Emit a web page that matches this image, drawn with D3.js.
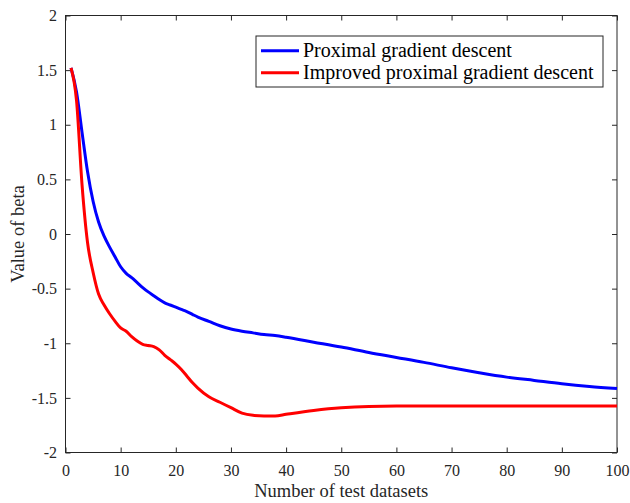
<!DOCTYPE html>
<html>
<head>
<meta charset="utf-8">
<script src="https://cdn.jsdelivr.net/npm/d3@7"></script>
<style>
  html, body { margin: 0; padding: 0; background: #fff; }
  svg { display: block; font-family: "Liberation Serif", "Times New Roman", serif; }
</style>
</head>
<body>
<div id="chart"></div>
<script>
// data
const datasets = [1, 2, 3, 4, 5, 6, 7, 8, 9, 10, 11, 12, 13, 14, 15, 16, 17, 18, 19, 20,
  21, 22, 23, 24, 26, 28, 30, 32, 34, 36, 38, 40, 45, 50, 55, 60, 65, 70, 75, 80, 85, 90, 95, 100];

const proximal = [1.52, 1.30, 0.93, 0.57, 0.30, 0.11, -0.02, -0.12, -0.21, -0.30, -0.36, -0.40, -0.445, -0.49, -0.53, -0.565, -0.60, -0.63, -0.65, -0.67,
  -0.69, -0.71, -0.735, -0.76, -0.80, -0.84, -0.87, -0.89, -0.905, -0.92, -0.93, -0.945, -0.99, -1.035, -1.085, -1.13, -1.175, -1.225, -1.27, -1.31, -1.34, -1.37, -1.395, -1.415];

const improved = [1.52, 1.22, 0.45, -0.08, -0.35, -0.55, -0.65, -0.73, -0.80, -0.86, -0.89, -0.94, -0.98, -1.01, -1.02, -1.03, -1.06, -1.11, -1.15, -1.19,
  -1.24, -1.30, -1.36, -1.41, -1.49, -1.54, -1.59, -1.64, -1.66, -1.665, -1.665, -1.65, -1.615, -1.59, -1.578, -1.575, -1.575, -1.575, -1.575, -1.575, -1.575, -1.575, -1.575, -1.575];

const seriesNames = ["Proximal gradient descent", "Improved proximal gradient descent"];
const seriesColors = ["#0000ff", "#ff0000"];
const xTicks = [0, 10, 20, 30, 40, 50, 60, 70, 80, 90, 100];
const yTicks = [-2, -1.5, -1, -0.5, 0, 0.5, 1, 1.5, 2];

const width = 630, height = 503;
const margin = { top: 15.5, right: 13, bottom: 50.5, left: 65.5 };
const w = width - margin.left - margin.right;
const h = height - margin.top - margin.bottom;
const serif = "'Liberation Serif', 'Times New Roman', serif";

const svg = d3.select("#chart").append("svg")
  .attr("width", width)
  .attr("height", height);

const g = svg.append("g")
  .attr("transform", `translate(${margin.left},${margin.top})`);

const x = d3.scaleLinear().domain([0, 100]).range([0, w]);
const y = d3.scaleLinear().domain([-2, 2]).range([h, 0]);

const axisColor = "#262626";
const styleAxis = sel => {
  sel.attr("font-family", serif).attr("font-size", 16);
  sel.select(".domain").remove();
  sel.selectAll("line").attr("stroke", axisColor);
  sel.selectAll("text").attr("fill", axisColor).style("font-size", "16px")
    .style("font-family", serif);
};

// plain hyphen for negatives, like the original
const fmt = d => String(d);

// bottom & left axes (ticks pointing inward)
g.append("g")
  .attr("transform", `translate(0,${h})`)
  .call(d3.axisBottom(x).tickValues(xTicks).tickSize(-5).tickPadding(12).tickFormat(fmt))
  .call(styleAxis);

g.append("g")
  .call(d3.axisLeft(y).tickValues(yTicks).tickSize(-5).tickPadding(8.5).tickFormat(fmt))
  .call(styleAxis);

// top & right ticks
g.append("g")
  .call(d3.axisTop(x).tickValues(xTicks).tickSize(-5).tickFormat(""))
  .call(styleAxis);

g.append("g")
  .attr("transform", `translate(${w},0)`)
  .call(d3.axisRight(y).tickValues(yTicks).tickSize(-5).tickFormat(""))
  .call(styleAxis);

// box
g.append("rect")
  .attr("width", w)
  .attr("height", h)
  .attr("fill", "none")
  .attr("stroke", axisColor)
  .attr("stroke-width", 1);

// lines
const line = d3.line()
  .x((d, i) => x(datasets[i]))
  .y(d => y(d))
  .curve(d3.curveMonotoneX);

[proximal, improved].forEach((vals, i) => {
  g.append("path")
    .datum(vals)
    .attr("fill", "none")
    .attr("stroke", seriesColors[i])
    .attr("stroke-width", 3)
    .attr("stroke-linejoin", "round")
    .attr("d", line);
});

// axis labels
svg.append("text")
  .attr("x", margin.left + w / 2)
  .attr("y", 496.5)
  .attr("text-anchor", "middle")
  .attr("fill", axisColor)
  .style("font-size", "18.5px")
  .text("Number of test datasets");

svg.append("text")
  .attr("transform", `translate(23.5,${margin.top + h / 2}) rotate(-90)`)
  .attr("text-anchor", "middle")
  .attr("fill", axisColor)
  .style("font-size", "18.5px")
  .text("Value of beta");

// legend
const legend = svg.append("g").attr("transform", "translate(256,36)");
legend.append("rect")
  .attr("width", 347)
  .attr("height", 51)
  .attr("fill", "#fff")
  .attr("stroke", axisColor)
  .attr("stroke-width", 1);

seriesNames.forEach((name, i) => {
  const ly = 14.7 + i * 22;
  legend.append("line")
    .attr("x1", 5).attr("x2", 43)
    .attr("y1", ly).attr("y2", ly)
    .attr("stroke", seriesColors[i])
    .attr("stroke-width", 3);
  legend.append("text")
    .attr("x", 47)
    .attr("y", ly + 6.5)
    .attr("fill", "#000")
    .style("font-size", "20px")
    .text(name);
});
</script>
</body>
</html>
